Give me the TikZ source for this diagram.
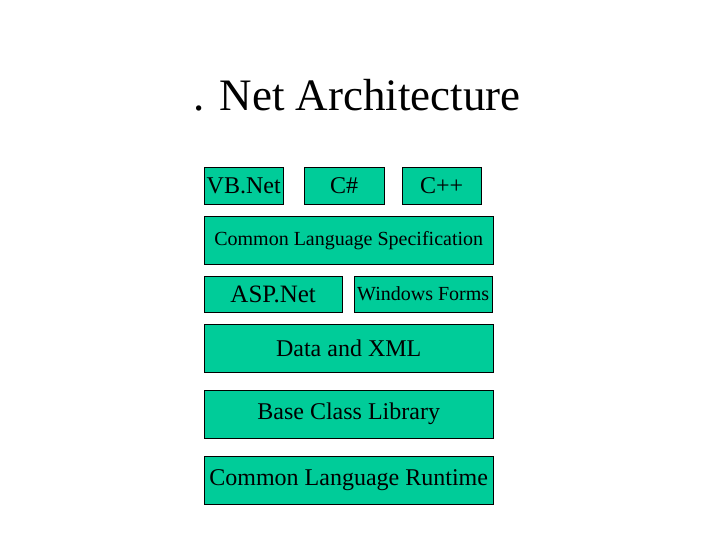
\documentclass[tikz,border=0pt]{standalone}
\usepackage{fontspec}
\setmainfont{Liberation Serif}
\definecolor{netgreen}{HTML}{00CC99}
\tikzset{layer/.style={rectangle, draw, fill=netgreen, inner sep=0pt, anchor=north west}}
\begin{document}
\begin{tikzpicture}[x=1pt, y=-1pt]
	\useasboundingbox (0,0) rectangle (720,540);
	
	\node [font=\fontsize{45}{54}\selectfont] (title) at (357,95) {. Net Architecture};
	
	\node [layer, minimum width=79pt, minimum height=37pt, font=\fontsize{24}{28}\selectfont] (vb) at (204,167) {VB.Net};
	\node [layer, minimum width=80pt, minimum height=37pt, font=\fontsize{24}{28}\selectfont] (cs) at (304,167) {C\#};
	\node [layer, minimum width=79pt, minimum height=37pt, font=\fontsize{24}{28}\selectfont] (cpp) at (402,167) {C++};
	
	\node [layer, minimum width=289pt, minimum height=48pt, font=\fontsize{20}{24}\selectfont] (cls) at (204,216) {Common Language Specification};
	
	\node [layer, minimum width=138pt, minimum height=36pt, font=\fontsize{25}{30}\selectfont] (asp) at (204,276) {ASP.Net};
	\node [layer, minimum width=138pt, minimum height=36pt, font=\fontsize{20}{24}\selectfont] (forms) at (354,276) {Windows Forms};
	
	\node [layer, minimum width=289pt, minimum height=48pt, font=\fontsize{24}{28}\selectfont] (xml) at (204,324) {Data and XML};
	\node [layer, minimum width=289pt, minimum height=48pt, font=\fontsize{24}{28}\selectfont] (bcl) at (204,390) {Base Class Library};
	\node [layer, minimum width=289pt, minimum height=48pt, font=\fontsize{24}{28}\selectfont] (clr) at (204,456) {Common Language Runtime};
\end{tikzpicture}
\end{document}
